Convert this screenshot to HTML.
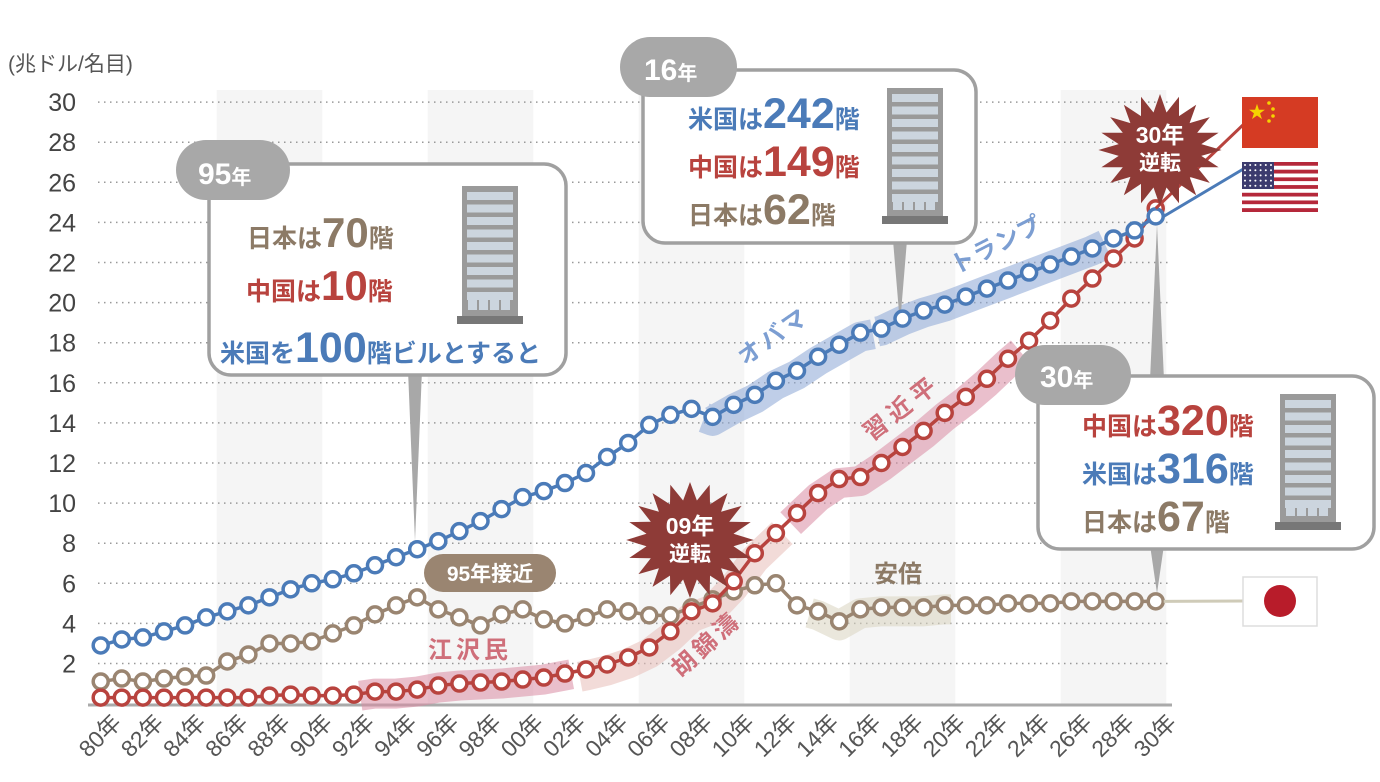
<!DOCTYPE html>
<html><head><meta charset="utf-8">
<style>
html,body{margin:0;padding:0;background:#fff;}
svg{display:block;font-family:"Liberation Sans","Noto Sans CJK JP",sans-serif;}
</style></head>
<body>
<svg id="chart" width="1380" height="782" viewBox="0 0 1380 782" xmlns="http://www.w3.org/2000/svg">
<g id="bands"></g>
<g id="grid"></g>
<text x="8" y="71" font-size="21" fill="#555">(兆ドル/名目)</text>
<g id="yticks"></g>
<g id="xticks"></g>
<line x1="88" y1="705" x2="1172" y2="705" stroke="#aaa" stroke-width="3"/>
<g id="hl"></g>
<g id="ptrs"></g>
<g id="series"></g>
<g id="annot"></g>
</svg>
<script>
const years = [];
for (let yv = 1980; yv <= 2030; yv++) years.push(yv);
const usValues = [2.9,3.2,3.3,3.6,3.9,4.3,4.6,4.9,5.3,5.7,6.0, 6.2,6.5,6.9,7.3,7.7,8.1,8.6,9.1,9.7,10.3, 10.6,11.0,11.5,12.3,13.0,13.9,14.4,14.7,14.3,14.9, 15.4,16.1,16.6,17.3,17.9,18.5,18.7,19.2,19.6,19.9, 20.3,20.7,21.1,21.5,21.9,22.3,22.7,23.2,23.6,24.3];
const chinaValues = [0.3,0.3,0.3,0.3,0.3,0.3,0.3,0.3,0.4,0.45,0.4, 0.4,0.45,0.6,0.6,0.7,0.9,1.0,1.05,1.1,1.2, 1.3,1.5,1.7,1.95,2.3,2.8,3.6,4.6,5.0,6.1, 7.5,8.5,9.5,10.5,11.2,11.3,12.0,12.8,13.6,14.5, 15.3,16.2,17.2,18.1,19.1,20.2,21.2,22.2,23.2,24.7];
const japanValues = [1.1,1.25,1.1,1.25,1.35,1.4,2.1,2.45,3.0,3.0,3.1, 3.5,3.9,4.45,4.9,5.3,4.7,4.3,3.9,4.45,4.7, 4.2,4.0,4.3,4.7,4.6,4.4,4.4,4.8,5.2,5.6, 5.9,6.0,4.9,4.6,4.1,4.7,4.8,4.8,4.8,4.9, 4.9,4.9,5.0,5.0,5.0,5.1,5.1,5.1,5.1,5.1];
const yTicks = [2,4,6,8,10,12,14,16,18,20,22,24,26,28,30];
const xTickYears = [1980,1982,1984,1986,1988,1990,1992,1994,1996,1998,2000,2002,2004,2006,2008,2010,2012,2014,2016,2018,2020,2022,2024,2026,2028,2030];

const NS = "http://www.w3.org/2000/svg";
const X = yr => 100.7 + (yr - 1980) * 21.1;
const Y = v => 703.6 - v * 20.05;
function mk(tag, attrs, parent) {
  const e = document.createElementNS(NS, tag);
  for (const k in attrs) e.setAttribute(k, attrs[k]);
  parent.appendChild(e);
  return e;
}
function valAt(arr, yr) {
  const i = Math.floor(yr - 1980), f = (yr - 1980) - i;
  if (i >= arr.length - 1) return arr[arr.length - 1];
  return arr[i] * (1 - f) + arr[i + 1] * f;
}

const bandsG = document.getElementById('bands');
for (let s = 1985.5; s < 2030; s += 10) {
  const r = mk('rect', {x: X(s), y: 90, width: Math.min(X(s + 5), 1172) - X(s), height: 615, fill: '#f5f5f5'}, bandsG);
  
  
}
const gridG = document.getElementById('grid'), ytG = document.getElementById('yticks');
yTicks.forEach(t => {
  const l = mk('line', {x1: 98, x2: 1172, y1: Y(t), y2: Y(t), stroke: '#999', 'stroke-width': 1.5, 'stroke-dasharray': '1.5 4.5'}, gridG);
  
  
  const tx = mk('text', {x: 76, y: Y(t) + 9, 'text-anchor': 'end', 'font-size': 25, fill: '#444'}, ytG);
  tx.textContent = t;
  
  
});
const xtG = document.getElementById('xticks');
xTickYears.forEach(yr => {
  const cx = X(yr) + 22, cy = 724;
  const tx = mk('text', {x: cx, y: cy, 'text-anchor': 'end', 'font-size': 23, fill: '#555', transform: `rotate(-45 ${cx} ${cy})`}, xtG);
  tx.textContent = String(yr % 100).padStart(2, '0') + '年';
  
  
});
const hlG = document.getElementById('hl');
function band(arr, a, b, color, off) {
  const pts = [];
  const ys = [a];
  for (let k = Math.ceil(a); k < b; k++) ys.push(k);
  ys.push(b);
  ys.forEach(yr => pts.push(X(yr) + ',' + (Y(valAt(arr, yr)) + off)));
  const p = mk('polyline', {points: pts.join(' '), fill: 'none', stroke: color, 'stroke-width': 30, 'stroke-linejoin': 'round', 'stroke-linecap': 'butt', opacity: 0.55}, hlG);
  
  
}
band(chinaValues, 1992.3, 2002.3, '#d98aa2', 2);
band(chinaValues, 2002.7, 2012.3, '#e8bdb8', 6);
band(chinaValues, 2012.7, 2023.6, '#d98aa2', 4);
band(usValues, 2008.6, 2016.6, '#8aa6d6', 4);
band(usValues, 2016.8, 2027.6, '#8aa6d6', 2);
band(japanValues, 2013.6, 2020.3, '#d9d3c0', 4);

const pG = document.getElementById('ptrs');
[[415, 370, 415, Y(valAt(usValues, 1995))-8],[900, 240, 900, Y(usValues[36])-8],[1157, 380, 1157, Y(usValues[50])+8],[1157, 545, 1157, Y(japanValues[50])-8]].forEach(p => {
  const w = 7;
  const poly = mk('polygon', {points: `${p[0]-w},${p[1]} ${p[0]+w},${p[1]} ${p[2]},${p[3]}`, fill: '#a8a8a8'}, pG);
  
  
});

const sG = document.getElementById('series');
function series(arr, color, name) {
  const g = mk('g', {}, sG);
  
  
  const pl = mk('polyline', {points: arr.map((v, i) => X(years[i]) + ',' + Y(v)).join(' '), fill: 'none', stroke: color, 'stroke-width': 3.5}, g);
  
  
  arr.forEach((v, i) => {
    const c = mk('circle', {cx: X(years[i]), cy: Y(v), r: 7.5, fill: '#fff', stroke: color, 'stroke-width': 3.5}, g);
    
    
  });
}
series(japanValues, '#9a8571', 'japan-series');
series(chinaValues, '#b8433e', 'china-series');
series(usValues, '#4b7bb8', 'us-series');

const aG = document.getElementById('annot');
const c1 = mk('line', {x1: X(2030), y1: Y(chinaValues[50]), x2: 1245, y2: 123, stroke: '#b8433e', 'stroke-width': 3}, aG);
 
const c2 = mk('line', {x1: X(2030) + 8, y1: Y(usValues[50]), x2: 1245, y2: 168, stroke: '#4b7bb8', 'stroke-width': 3}, aG);
 
const c3 = mk('line', {x1: X(2030) + 8, y1: Y(japanValues[50]), x2: 1245, y2: 601, stroke: '#cfcbb8', 'stroke-width': 3}, aG);
 
</script>

<script>
(function(){
const NS = "http://www.w3.org/2000/svg";
const aG = document.getElementById('annot');
function add(html){ const g = document.createElementNS(NS,'g'); g.innerHTML = html; aG.appendChild(g); return g; }
function building(x, y, w, h){
  let s = `<g><rect x="${x}" y="${y}" width="${w}" height="${h}" fill="#9a9a9a"/>`;
  for(let i=0;i<9;i++) s += `<rect x="${x+5}" y="${y+6+i*12.5}" width="${w-10}" height="8" fill="#ccd5de"/>`;
  for(let i=0;i<4;i++) s += `<rect x="${x+6+i*((w-12)/4)}" y="${y+h-26}" width="${(w-12)/4-2}" height="14" fill="#ccd5de"/>`;
  s += `<rect x="${x-5}" y="${y+h-6}" width="${w+10}" height="8" fill="#777"/></g>`;
  return s;
}
const B = 'font-weight="bold"';
add(`
<g>
 <rect x="209" y="164" width="357" height="211" rx="22" fill="#fff" stroke="#a0a0a0" stroke-width="3.5"/>
 <rect x="176" y="140" width="114" height="60" rx="30" fill="#a8a8a8"/>
 <text x="198" y="184" font-size="30" ${B} fill="#fff">95<tspan font-size="20">年</tspan></text>
 <text x="247" y="247" font-size="25" ${B} fill="#8c7a66">日本は<tspan font-size="42">70</tspan>階</text>
 <text x="246" y="300" font-size="25" ${B} fill="#b8433e">中国は<tspan font-size="42">10</tspan>階</text>
 <text x="220" y="362" font-size="25" ${B} fill="#4b7bb8">米国を<tspan font-size="43">100</tspan>階ビルとすると</text>
 ${building(462,186,56,136)}
</g>
<g>
 <rect x="643" y="70" width="333" height="173" rx="22" fill="#fff" stroke="#a0a0a0" stroke-width="3.5"/>
 <rect x="620" y="37" width="117" height="60" rx="30" fill="#a8a8a8"/>
 <text x="644" y="80" font-size="30" ${B} fill="#fff">16<tspan font-size="20">年</tspan></text>
 <text x="688" y="128" font-size="25" ${B} fill="#4b7bb8">米国は<tspan font-size="43">242</tspan>階</text>
 <text x="688" y="176" font-size="25" ${B} fill="#b8433e">中国は<tspan font-size="43">149</tspan>階</text>
 <text x="688" y="224" font-size="25" ${B} fill="#8c7a66">日本は<tspan font-size="43">62</tspan>階</text>
 ${building(887,88,56,134)}
</g>
<g>
 <rect x="1038" y="376" width="336" height="173" rx="22" fill="#fff" stroke="#a0a0a0" stroke-width="3.5"/>
 <rect x="1015" y="345" width="116" height="60" rx="30" fill="#a8a8a8"/>
 <text x="1040" y="387" font-size="30" ${B} fill="#fff">30<tspan font-size="20">年</tspan></text>
 <text x="1082" y="435" font-size="25" ${B} fill="#b8433e">中国は<tspan font-size="43">320</tspan>階</text>
 <text x="1082" y="483" font-size="25" ${B} fill="#4b7bb8">米国は<tspan font-size="43">316</tspan>階</text>
 <text x="1082" y="531" font-size="25" ${B} fill="#8c7a66">日本は<tspan font-size="43">67</tspan>階</text>
 ${building(1280,394,56,134)}
</g>
<g>
 <rect x="424" y="554" width="132" height="38" rx="19" fill="#9a8571"/>
 <text x="490" y="581" text-anchor="middle" font-size="21" ${B} fill="#fff">95年接近</text>
</g>
<text x="470" y="658" text-anchor="middle" font-size="24" ${B} fill="#cf6f7a" letter-spacing="4">江沢民</text>
<text x="0" y="0" transform="translate(712 650) rotate(-42)" text-anchor="middle" font-size="24" ${B} fill="#cf6f7a" letter-spacing="4">胡錦濤</text>
<text x="0" y="0" transform="translate(907 414) rotate(-38)" text-anchor="middle" font-size="24" ${B} fill="#cf6f7a" letter-spacing="6">習近平</text>
<text x="0" y="0" transform="translate(778 343) rotate(-35)" text-anchor="middle" font-size="24" ${B} fill="#7c9ed2" letter-spacing="3">オバマ</text>
<text x="0" y="0" transform="translate(1000 252) rotate(-27)" text-anchor="middle" font-size="24" ${B} fill="#7c9ed2" letter-spacing="1">トランプ</text>
<text x="898" y="582" text-anchor="middle" font-size="24" ${B} fill="#8c7a66">安倍</text>
`);
function burst(cx, cy, r1, r2, n){
  const p=[]; for(let i=0;i<n*2;i++){const a=Math.PI*i/n, r=i%2?r2:r1; p.push((cx+r*Math.cos(a)*1.1).toFixed(1)+','+(cy+r*Math.sin(a)).toFixed(1));} return p.join(' ');
}
add(`
<g>
 <polygon points="${burst(690,540,58,40,20)}" fill="#8e3b37"/>
 <text x="690" y="534" text-anchor="middle" font-size="23" ${B} fill="#fff">09年</text>
 <text x="690" y="561" text-anchor="middle" font-size="21" ${B} fill="#fff">逆転</text>
</g>
<g>
 <polygon points="${burst(1160,150,56,38,20)}" fill="#8e3b37"/>
 <text x="1160" y="143" text-anchor="middle" font-size="23" ${B} fill="#fff">30年</text>
 <text x="1160" y="170" text-anchor="middle" font-size="21" ${B} fill="#fff">逆転</text>
</g>
<g>
 <rect x="1242" y="97" width="76" height="51" fill="#d53b23"/>
 <text x="1257" y="118" text-anchor="middle" font-size="17" fill="#f5d300">★</text>
 <circle cx="1269" cy="103" r="1.8" fill="#f5d300"/><circle cx="1273" cy="109" r="1.8" fill="#f5d300"/>
 <circle cx="1273" cy="116" r="1.8" fill="#f5d300"/><circle cx="1269" cy="121" r="1.8" fill="#f5d300"/>
</g>
<g id="usflag"></g>
<g>
 <rect x="1243" y="577" width="74" height="49" fill="#fff" stroke="#ddd" stroke-width="1.5"/>
 <circle cx="1280" cy="601" r="16" fill="#b81c2a"/>
</g>
`);
const uf = document.getElementById('usflag');
let s='';
for(let i=0;i<13;i++) s+=`<rect x="1242" y="${162+i*50/13}" width="76" height="${50/13}" fill="${i%2?'#fff':'#b5283a'}"/>`;
s+=`<rect x="1242" y="162" width="32" height="27" fill="#3c3b6e"/>`;
for(let r=0;r<5;r++)for(let c=0;c<6;c++) s+=`<circle cx="${1245+c*5.2}" cy="${165+r*5.2}" r="1" fill="#fff"/>`;
uf.innerHTML=s;
})();
</script>
</body></html>
